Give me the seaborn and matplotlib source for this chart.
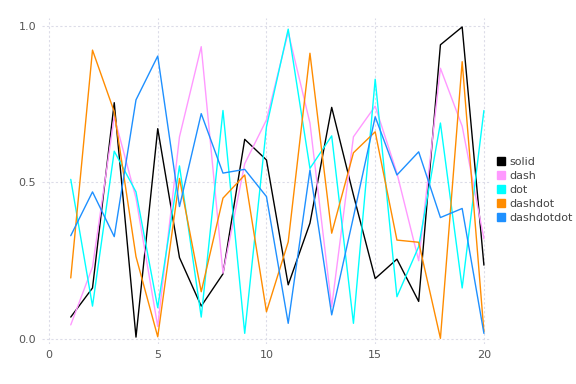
import matplotlib
matplotlib.use("Agg")
import matplotlib.pyplot as plt
from matplotlib.lines import Line2D
import seaborn as sns
import pandas as pd

x = list(range(1, 21))

solid = [0.07, 0.163, 0.755, 0.006, 0.672, 0.26, 0.105, 0.208, 0.638, 0.572,
         0.173, 0.37, 0.74, 0.46, 0.193, 0.255, 0.12, 0.94, 0.997, 0.236]
dash = [0.045, 0.23, 0.71, 0.45, 0.04, 0.646, 0.934, 0.21, 0.56, 0.70,
        0.98, 0.69, 0.103, 0.646, 0.744, 0.53, 0.25, 0.865, 0.68, 0.32]
dot = [0.51, 0.105, 0.60, 0.47, 0.10, 0.553, 0.07, 0.73, 0.018, 0.678,
       0.99, 0.545, 0.649, 0.05, 0.83, 0.135, 0.295, 0.69, 0.163, 0.73]
dashdot = [0.195, 0.923, 0.726, 0.263, 0.007, 0.513, 0.151, 0.45, 0.524, 0.087,
           0.31, 0.913, 0.338, 0.595, 0.662, 0.316, 0.309, 0.002, 0.886, 0.023]
dashdotdot = [0.33, 0.47, 0.327, 0.764, 0.904, 0.423, 0.72, 0.53, 0.542, 0.455,
              0.05, 0.54, 0.077, 0.39, 0.71, 0.524, 0.598, 0.388, 0.417, 0.018]

names = ['solid', 'dash', 'dot', 'dashdot', 'dashdotdot']
colors = ['black', '#ff99ff', 'cyan', 'darkorange', 'dodgerblue']

series = [solid, dash, dot, dashdot, dashdotdot]
df = pd.concat([pd.DataFrame({'x': x, 'y': s, 'name': n}) for n, s in zip(names, series)])

sns.set_theme(style='white')
plt.rcParams['font.family'] = ['DejaVu Sans']

fig = plt.figure(figsize=(5.76, 3.84), dpi=100)
ax = fig.add_axes([0.0724, 0.1034, 0.7783, 0.8489])

sns.lineplot(data=df, x='x', y='y', hue='name', hue_order=names,
             palette=dict(zip(names, colors)), linewidth=1.0, ax=ax, legend=False)

ax.set_xlim(-0.336, 20.28)
ax.set_ylim(-0.017, 1.0246)
ax.set_xticks([0, 5, 10, 15, 20])
ax.set_yticks([0.0, 0.5, 1.0])
ax.set_yticklabels(['0.0', '0.5', '1.0'])
ax.set_xlabel('')
ax.set_ylabel('')
ax.grid(True, color='#dcdce8', linestyle=(0, (2, 2)), linewidth=0.8)
ax.set_axisbelow(True)
for sp in ax.spines.values():
    sp.set_visible(False)
ax.tick_params(length=0, labelsize=8, labelcolor='#555555', pad=4)

handles = [Line2D([], [], marker='s', linestyle='none', color=c, markersize=6) for c in colors]
fig.legend(handles, names, loc='center left', bbox_to_anchor=(0.852, 0.505),
           frameon=False, fontsize=8, handletextpad=0.3, labelspacing=0.35,
           handlelength=1.0, labelcolor='#444444', borderaxespad=0)

fig.savefig('out.png', dpi=100)
